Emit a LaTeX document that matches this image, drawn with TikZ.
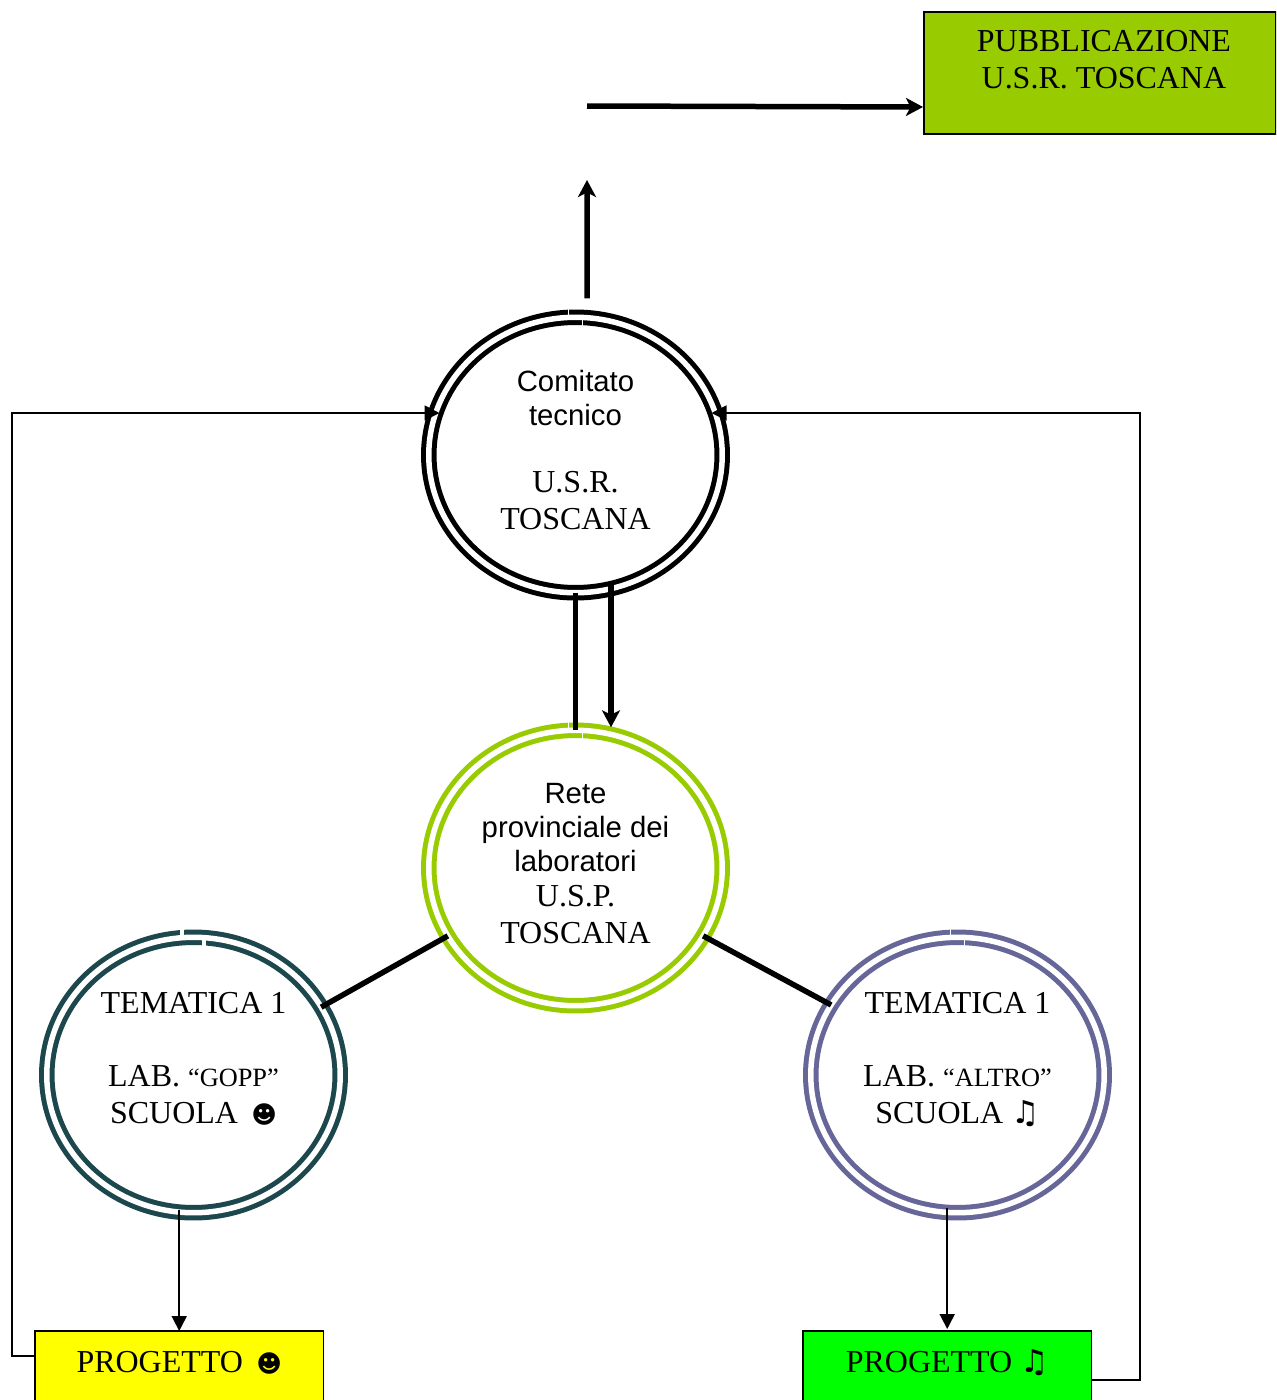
\documentclass[tikz,border=0pt]{standalone}
\usepackage{fontspec}
\setmainfont{Liberation Serif}
\setsansfont{Liberation Sans}
\newfontfamily\symfont{DejaVu Sans}
\usepackage{tikz}
\usetikzlibrary{
  arrows.meta,
  calc,
  positioning,
  shapes.geometric
}
\definecolor{pubgreen}{RGB}{153,204,0}
\definecolor{tealring}{RGB}{28,71,77}
\definecolor{purplering}{RGB}{102,102,153}
\definecolor{progyellow}{RGB}{255,255,0}
\definecolor{proggreen}{RGB}{0,255,0}
\newcommand{\smiley}{{\symfont\fontsize{14}{16}\selectfont ☻}}
\newcommand{\notes}{{\symfont\bfseries\fontsize{18}{16}\selectfont ♫}}
\newcommand{\sm}[1]{{\fontsize{15}{21}\selectfont #1}}
\newcommand{\arialtxt}{\sffamily\fontsize{16.7}{21}\selectfont}

\begin{document}
\begin{tikzpicture}[
  x=0.02cm, y=-0.02cm,
  ring/.style={ellipse, draw=#1, double=white, line width=0.1cm,
               double distance=0.11cm, outer sep=0pt, inner sep=0pt,
               minimum width=5.87cm, minimum height=5.51cm, align=center,
               font=\fontsize{18.2}{21}\selectfont},
  labelbox/.style={draw=black, line width=0.035cm, outer sep=0pt, inner sep=0pt,
               minimum width=5.77cm, minimum height=2.44cm, align=center,
               font=\fontsize{18.2}{21}\selectfont},
  heavy/.style={line width=0.11cm},
  heavyarr/.style={heavy, -{Stealth[length=0.34cm, width=0.36cm, inset=0.09cm]}},
  thin arr/.style={line width=0.035cm, -{Triangle[length=0.3cm, width=0.3cm]}},
  seam/.style={white, line width=#1}
]
\clip (0,0) rectangle (1276,1400);

\node[ring=black, text depth=0.22cm] (comitato) at (575.5,455) {\arialtxt Comitato\\[-1.7pt]\arialtxt tecnico\\[17.1pt]U.S.R.\\TOSCANA};
\node[ring=pubgreen, text depth=0.18cm] (rete) at (575.5,868) {\arialtxt Rete\\[-1.7pt]\arialtxt provinciale dei\\[-2pt]\arialtxt laboratori\\[-1pt]U.S.P.\\TOSCANA};
\node[ring=tealring, text depth=0.7cm] (tema) at (193.5,1075) {TEMATICA 1\\[20.6pt]LAB. \sm{“GOPP”}\\SCUOLA \,\smiley};
\node[ring=purplering, text depth=0.7cm] (temb) at (957.5,1075) {TEMATICA 1\\[20.6pt]LAB. \sm{“ALTRO”}\\SCUOLA \notes};

\node[labelbox, fill=pubgreen, minimum width=7.04cm, anchor=north west, text height=1.54cm, text depth=0.9cm] (pub) at (924,12) {\hspace*{0.16cm}PUBBLICAZIONE\\[0.5pt]\hspace*{0.16cm}U.S.R. TOSCANA};
\node[labelbox, fill=progyellow, anchor=north west, text height=0.82cm, text depth=1.62cm] (proga) at (35,1331) {PROGETTO \,\smiley};
\node[labelbox, fill=proggreen, anchor=north west, text height=0.82cm, text depth=1.62cm] (progb) at (803,1331) {PROGETTO \notes};

\coordinate (upend) at (587,180);
\coordinate (pubstart) at (587,106);
\coordinate (busleft) at (12,413);
\coordinate (busright) at (1140,413);

% seams in the rings
\foreach \n/\a/\b/\w in {comitato/-7/7/0.035cm,rete/-7/7/0.035cm,tema/-12/10/0.08cm,temb/-7/7/0.035cm}{
  \draw[seam=\w] ([shift={(\a,-9)}]\n.north) -- ([shift={(\a,-1)}]\n.north);
  \draw[seam=\w] ([shift={(\b,1)}]\n.north) -- ([shift={(\b,9)}]\n.north);
}

\draw[heavyarr] ([shift={(11.5,-19)}]comitato.north) -- (upend);
\draw[heavyarr] (pubstart) -- ([shift={(-1,34)}]pub.west);
\draw[heavy] (comitato.south) -- (rete.north);
\draw[heavyarr] ([shift={(35.5,-9)}]comitato.south) -- ([shift={(35.5,-3)}]rete.north);
\draw[heavy] (rete.208.5) -- (tema.28.2);
\draw[heavy] (rete.-28.5) -- (temb.151.3);

\draw[thin arr] ($(tema.south -| proga.north)+(0,-3)$) -- (proga.north);
\draw[thin arr] ($(temb.south -| progb.north)+(0,-5)$) -- ([yshift=0.04cm]progb.north);
\draw[thin arr] ([shift={(0,25)}]proga.north west) -| (busleft) -- ([shift={(-136,-42)}]comitato.center);
\draw[thin arr] ([shift={(0,49)}]progb.north east) -| (busright) -- ([shift={(136,-42)}]comitato.center);

\end{tikzpicture}
\end{document}
